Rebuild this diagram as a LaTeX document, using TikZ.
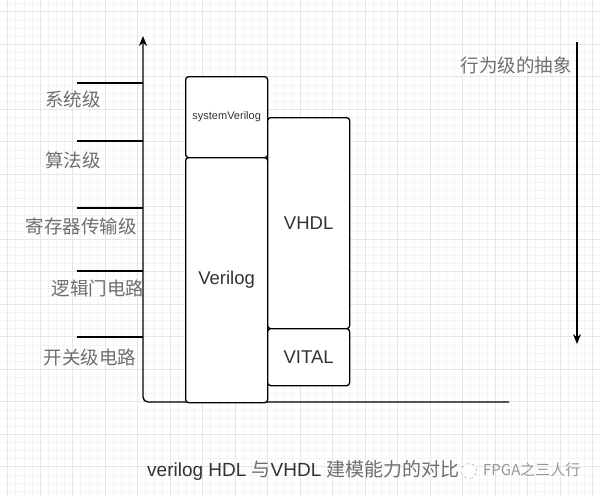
\documentclass[tikz,border=0pt]{standalone}
\usepackage{fontspec}
\setmainfont{Liberation Sans}
\newfontfamily\cjk{Noto Sans CJK SC}
\usetikzlibrary{arrows.meta}
\definecolor{gridmajor}{RGB}{230,230,230}
\definecolor{gridminor}{RGB}{244,244,244}
\definecolor{labelgray}{RGB}{110,110,110}
\definecolor{textdark}{RGB}{50,50,50}
\definecolor{markgray}{RGB}{150,150,150}

\begin{document}
\begin{tikzpicture}[
    x=1pt, y=-1pt,
    langbox/.style={draw, line width=1.3pt, rounded corners=3pt, fill=white, minimum width=82pt, inner sep=0pt, anchor=north west, text=textdark, font=\fontsize{18.5}{20}\selectfont},
    levellabel/.style={text=labelgray, font=\cjk\fontsize{18.5}{20}\selectfont, inner sep=0pt},
    axisline/.style={line width=1.3pt, -{Stealth[length=10pt, width=8pt]}},
    tickline/.style={line width=1.3pt}
]
\useasboundingbox (0,0) rectangle (600,496);

% background grid
\foreach \gx in {7.5,15.625,...,600} \draw[gridminor, line width=0.5pt] (\gx,0) -- (\gx,496);
\foreach \gy in {3.6,11.725,...,496} \draw[gridminor, line width=0.5pt] (0,\gy) -- (600,\gy);
\foreach \gx in {7.5,40,...,600} \draw[gridmajor, line width=0.6pt] (\gx,0) -- (\gx,496);
\foreach \gy in {11.7,44.2,...,496} \draw[gridmajor, line width=0.6pt] (0,\gy) -- (600,\gy);

% axes
\coordinate (origin) at (143,402);
\coordinate (ytop) at (143,36);
\coordinate (xend) at (509,402);
\draw[axisline, rounded corners=5pt] (xend) -- (origin) -- (ytop);

% level ticks and labels
\foreach \ty in {83,141,208,271,337} \draw[tickline] (77,\ty) -- (143,\ty);
\node[levellabel] (sys) at (73,99) {系统级};
\node[levellabel] (alg) at (73,160) {算法级};
\node[levellabel] (rtl) at (81,226) {寄存器传输级};
\node[levellabel] (gate) at (98,288) {逻辑门电路};
\node[levellabel] (switch) at (90,357) {开关级电路};

% language boxes
\node[langbox, minimum height=81pt, font=\fontsize{11}{12}\selectfont] (sysv) at (185,76) {systemVerilog};
\node[langbox, minimum height=245pt] (verilog) at (185,157) {Verilog};
\node[langbox, minimum height=211pt] (vhdl) at (267,117) {VHDL};
\node[langbox, minimum height=57pt] (vital) at (267,328) {VITAL};

% abstraction arrow
\coordinate (abstop) at (577,42);
\coordinate (absbot) at (577,344);
\draw[axisline] (abstop) -- (absbot);
\node[levellabel] (abstract) at (516,65) {行为级的抽象};

% caption and watermark
\node[anchor=west, inner sep=0pt, text=textdark, font=\fontsize{19}{21}\selectfont] (caption) at (147,470)
    {verilog HDL {\cjk\color{labelgray}与}VHDL {\cjk\color{labelgray}建模能力的对比}};
\node[circle, draw=markgray, dashed, fill=white, minimum size=15pt, inner sep=0pt] (wxicon) at (469,471) {};
\node[anchor=west, inner sep=0pt, text=markgray, font=\cjk\fontsize{15}{17}\selectfont] (mark) at (483,470) {FPGA之三人行};

\end{tikzpicture}
\end{document}
